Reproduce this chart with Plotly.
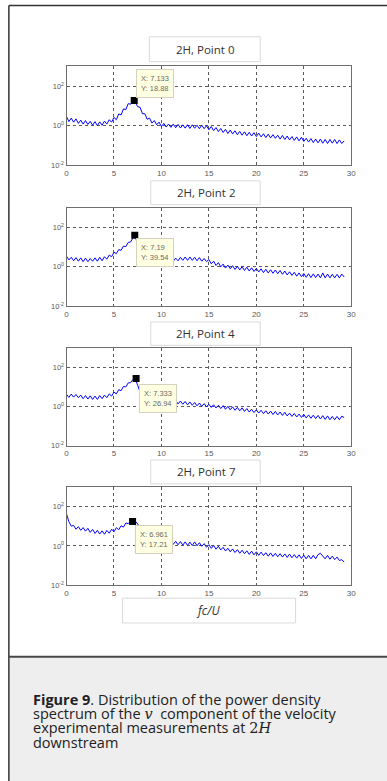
import math
import plotly.graph_objects as go

W, H = 387, 781

# ---------------- data ----------------
FREQ = [
    0, 0.25, 0.5, 0.75, 1, 1.25, 1.5, 1.75, 2, 2.25, 2.5, 2.75,
    3, 3.25, 3.5, 3.75, 4, 4.25, 4.5, 4.75, 5, 5.25, 5.5, 5.75,
    6, 6.25, 6.5, 6.75, 7, 7.25, 7.5, 7.75, 8, 8.25, 8.5, 8.75,
    9, 9.25, 9.5, 9.75, 10, 10.25, 10.5, 10.75, 11, 11.25, 11.5, 11.75,
    12, 12.25, 12.5, 12.75, 13, 13.25, 13.5, 13.75, 14, 14.25, 14.5, 14.75,
    15, 15.25, 15.5, 15.75, 16, 16.25, 16.5, 16.75, 17, 17.25, 17.5, 17.75,
    18, 18.25, 18.5, 18.75, 19, 19.25, 19.5, 19.75, 20, 20.25, 20.5, 20.75,
    21, 21.25, 21.5, 21.75, 22, 22.25, 22.5, 22.75, 23, 23.25, 23.5, 23.75,
    24, 24.25, 24.5, 24.75, 25, 25.25, 25.5, 25.75, 26, 26.25, 26.5, 26.75,
    27, 27.25, 27.5, 27.75, 28, 28.25, 28.5, 28.75, 29, 29.25,
]

PSD_P0 = [
    2.9, 1.6, 2.4, 1.5, 2.2, 1.3, 1.9, 1.2, 1.8, 1.15, 1.65, 1.05,
    1.6, 1.0, 1.55, 1.05, 1.7, 1.2, 2.0, 1.5, 2.6, 2.0, 3.9, 3.5,
    7.0, 6.5, 13.0, 12.0, 18.0, 16.0, 9.0, 8.5, 4.0, 4.0, 2.1, 2.4,
    1.35, 1.8, 1.1, 1.5, 0.9, 1.3, 0.85, 1.2, 0.82, 1.2, 0.78, 1.15,
    0.76, 1.1, 0.75, 1.12, 0.72, 1.1, 0.74, 1.05, 0.7, 1.05, 0.7, 1.0,
    0.62, 0.9, 0.56, 0.8, 0.5, 0.72, 0.45, 0.65, 0.4, 0.6, 0.38, 0.55,
    0.35, 0.51, 0.33, 0.49, 0.31, 0.46, 0.3, 0.44, 0.28, 0.42, 0.27, 0.39,
    0.25, 0.37, 0.24, 0.35, 0.23, 0.33, 0.21, 0.32, 0.2, 0.3, 0.19, 0.28,
    0.18, 0.27, 0.17, 0.26, 0.16, 0.23, 0.15, 0.22, 0.14, 0.21, 0.135, 0.21,
    0.13, 0.2, 0.125, 0.2, 0.13, 0.2, 0.125, 0.19, 0.125, 0.17,
]

PSD_P2 = [
    3.4, 2.2, 3.0, 2.0, 2.9, 1.9, 2.8, 1.8, 2.7, 1.8, 2.6, 1.9,
    2.8, 1.9, 3.0, 2.0, 3.2, 2.4, 3.9, 3.2, 5.4, 4.6, 7.4, 6.8,
    11.0, 10.5, 17.0, 18.0, 29.0, 37.0, 12.0, 6.0, 4.0, 3.0, 2.6, 2.2,
    2.5, 2.0, 2.4, 1.9, 2.4, 1.9, 2.5, 1.9, 2.8, 1.9, 2.7, 2.0,
    3.0, 2.1, 3.1, 2.1, 3.1, 2.1, 3.0, 2.0, 2.9, 1.9, 2.6, 1.8,
    2.3, 1.4, 1.9, 1.15, 1.6, 0.98, 1.35, 0.85, 1.2, 0.78, 1.12, 0.72,
    1.05, 0.68, 1.0, 0.64, 0.94, 0.6, 0.88, 0.57, 0.82, 0.54, 0.78, 0.5,
    0.74, 0.48, 0.7, 0.46, 0.68, 0.44, 0.64, 0.41, 0.6, 0.38, 0.55, 0.36,
    0.52, 0.33, 0.48, 0.31, 0.45, 0.29, 0.44, 0.28, 0.43, 0.28, 0.42, 0.27,
    0.48, 0.27, 0.42, 0.27, 0.41, 0.27, 0.41, 0.27, 0.42, 0.3,
]

PSD_P4 = [
    4.2, 2.9, 4.3, 3.0, 4.1, 2.8, 3.8, 2.5, 3.6, 2.4, 3.5, 2.3,
    3.4, 2.3, 3.6, 2.5, 3.8, 2.8, 4.4, 3.4, 5.4, 4.4, 7.2, 6.4,
    10.5, 10.0, 16.0, 16.5, 24.0, 25.0, 12.0, 5.5, 3.5, 2.5, 2.3, 1.8,
    2.3, 1.7, 2.2, 1.6, 2.1, 1.6, 2.1, 1.5, 2.1, 1.45, 2.0, 1.35,
    1.9, 1.3, 1.8, 1.22, 1.7, 1.15, 1.6, 1.08, 1.5, 1.0, 1.4, 0.95,
    1.3, 0.9, 1.22, 0.84, 1.15, 0.78, 1.1, 0.72, 1.02, 0.68, 0.96, 0.64,
    0.9, 0.6, 0.85, 0.56, 0.78, 0.52, 0.72, 0.49, 0.68, 0.46, 0.64, 0.43,
    0.6, 0.41, 0.58, 0.39, 0.56, 0.37, 0.52, 0.35, 0.5, 0.33, 0.46, 0.31,
    0.44, 0.29, 0.41, 0.28, 0.39, 0.26, 0.37, 0.25, 0.36, 0.24, 0.35, 0.23,
    0.34, 0.22, 0.33, 0.21, 0.31, 0.21, 0.31, 0.21, 0.32, 0.27,
]

PSD_P7 = [
    42.0, 17.0, 10.0, 11.0, 7.0, 9.5, 6.2, 8.5, 5.6, 7.8, 4.9, 6.9,
    4.3, 6.1, 4.0, 5.8, 3.9, 6.1, 4.4, 7.0, 5.2, 8.4, 6.6, 10.5,
    9.0, 14.5, 13.5, 18.0, 16.5, 18.0, 13.0, 8.0, 4.5, 3.6, 2.4, 2.4,
    1.8, 2.2, 1.6, 2.1, 1.5, 2.0, 1.95, 1.3, 1.85, 1.2, 1.7, 1.15,
    1.65, 1.1, 1.6, 1.05, 1.55, 1.05, 1.6, 1.02, 1.45, 0.95, 1.3, 0.85,
    1.15, 0.75, 1.05, 0.68, 0.95, 0.62, 0.85, 0.55, 0.76, 0.5, 0.7, 0.46,
    0.64, 0.42, 0.6, 0.4, 0.56, 0.37, 0.54, 0.35, 0.5, 0.33, 0.48, 0.32,
    0.45, 0.3, 0.44, 0.29, 0.42, 0.28, 0.4, 0.27, 0.39, 0.26, 0.38, 0.25,
    0.36, 0.24, 0.35, 0.23, 0.34, 0.22, 0.33, 0.22, 0.33, 0.22, 0.36, 0.42,
    0.32, 0.22, 0.33, 0.21, 0.3, 0.2, 0.27, 0.18, 0.2, 0.15,
]

PANEL_TITLES = ["2H, Point 0", "2H, Point 2", "2H, Point 4", "2H, Point 7"]
PEAK_X = [7.133, 7.19, 7.333, 6.961]
PEAK_Y = [18.88, 39.54, 26.94, 17.21]
PEAK_LABEL_X = ["7.133", "7.19", "7.333", "6.961"]
PEAK_LABEL_Y = ["18.88", "39.54", "26.94", "17.21"]
SERIES = [PSD_P0, PSD_P2, PSD_P4, PSD_P7]

X_TICKS = [0, 5, 10, 15, 20, 25, 30]
Y_TICKS = [0.01, 1, 100]
Y_TICK_TEXT = ["10<sup>-2</sup>", "10<sup>0</sup>", "10<sup>2</sup>"]
X_LABEL = "fc/U"

# ---------------- layout geometry (pixels) ----------------
def fx(p):
    return p / W


def fy(p):
    return 1 - p / H


PLOT_X = (65.7, 355.7)
PLOT_Y = [(66.7, 166.3), (209, 308), (350, 448.5), (490, 589)]
TITLE_BOX = [(150, 37, 263, 62), (151.5, 182, 263, 206), (151.5, 324, 263, 347.5), (151.5, 463, 263, 487)]
# datatip offsets (xanchor, yanchor, xshift, yshift)
TIP_POS = [("left", "bottom", 2, 2), ("left", "top", 1, -3), ("left", "top", 3, -6), ("left", "top", 2, -3)]

fig = go.Figure()

for i in range(4):
    n = "" if i == 0 else str(i + 1)
    xa, ya = "x" + n, "y" + n
    fig.add_trace(go.Scatter(
        x=FREQ, y=SERIES[i], mode="lines",
        line=dict(color="#0000ff", width=1),
        xaxis=xa, yaxis=ya, showlegend=False, hoverinfo="skip"))
    fig.add_trace(go.Scatter(
        x=[PEAK_X[i]], y=[PEAK_Y[i]], mode="markers",
        marker=dict(symbol="square", size=7, color="black"),
        xaxis=xa, yaxis=ya, showlegend=False, hoverinfo="skip"))

    y0, y1 = PLOT_Y[i]
    axis_common = dict(
        showline=True, mirror=True, linecolor="#6e6e6e", linewidth=1,
        showgrid=True, gridcolor="#5a5a5a", griddash="dot", gridwidth=1,
        zeroline=False, ticks="",
        tickfont=dict(family="Liberation Sans", size=8, color="#5a5a5a"),
    )
    fig.layout["xaxis" + n] = dict(
        axis_common, domain=[fx(PLOT_X[0]), fx(PLOT_X[1])], range=[0, 30],
        tickvals=X_TICKS, anchor=ya,
    )
    fig.layout["yaxis" + n] = dict(
        axis_common, domain=[fy(y1), fy(y0)], type="log", range=[-2, 3],
        tickvals=Y_TICKS, ticktext=Y_TICK_TEXT, anchor=xa,
        tickfont=dict(family="Liberation Sans", size=7.5, color="#5a5a5a"),
    )

    xanc, yanc, xs, ys = TIP_POS[i]
    fig.add_annotation(
        x=PEAK_X[i], y=math.log10(PEAK_Y[i]), xref=xa, yref=ya,
        text="X: " + PEAK_LABEL_X[i] + "<br>Y: " + PEAK_LABEL_Y[i],
        showarrow=False, xanchor=xanc, yanchor=yanc, xshift=xs, yshift=ys,
        align="left", bgcolor="#ffffe1", bordercolor="#d2d2be", borderwidth=1,
        borderpad=4, font=dict(family="Liberation Sans", size=7.5, color="#6a6a6a"),
    )

    bx0, by0, bx1, by1 = TITLE_BOX[i]
    fig.add_shape(type="rect", xref="paper", yref="paper",
                  x0=fx(bx0), x1=fx(bx1), y0=fy(by1), y1=fy(by0),
                  line=dict(color="#dadada", width=1), fillcolor="white")
    fig.add_annotation(
        x=fx((bx0 + bx1) / 2), y=fy((by0 + by1) / 2), xref="paper", yref="paper",
        text=PANEL_TITLES[i], showarrow=False, xanchor="center", yanchor="middle",
        font=dict(family="Open Sans", size=11.5, color="#333333"),
    )

# x-label box
fig.add_shape(type="rect", xref="paper", yref="paper",
              x0=fx(122.7), x1=fx(299), y0=fy(627), y1=fy(602),
              line=dict(color="#dadada", width=1), fillcolor="white")
fig.add_annotation(
    x=fx(210), y=fy(614.5), xref="paper", yref="paper",
    text="<i>" + X_LABEL + "</i>", showarrow=False, xanchor="center", yanchor="middle",
    font=dict(family="Open Sans", size=12, color="#333333"),
)

# outer frame and caption area
fig.add_shape(type="rect", xref="paper", yref="paper",
              x0=fx(7.5), x1=fx(395), y0=fy(790), y1=fy(661),
              line=dict(width=0), fillcolor="#eeeeee", layer="below")
fig.add_shape(type="line", xref="paper", yref="paper",
              x0=fx(7), x1=fx(395), y0=fy(5.5), y1=fy(5.5),
              line=dict(color="#333333", width=1.5))
fig.add_shape(type="line", xref="paper", yref="paper",
              x0=fx(7), x1=fx(7), y0=fy(5.5), y1=fy(790),
              line=dict(color="#333333", width=1.5))
fig.add_shape(type="line", xref="paper", yref="paper",
              x0=fx(7), x1=fx(395), y0=fy(661), y1=fy(661),
              line=dict(color="#474747", width=2))

CAPTION = [
    "<b>Figure 9</b>. Distribution of the power density",
    "spectrum of the <span style=\"font-family:'DejaVu Serif'\"><i>v</i></span>  component of the velocity",
    "experimental measurements at <span style=\"font-family:'DejaVu Serif'\">2<i>H</i></span>",
    "downstream",
]
for k, line in enumerate(CAPTION):
    fig.add_annotation(
        x=fx(31), y=fy(704 + 14.3 * k), xref="paper", yref="paper",
        text=line, showarrow=False, xanchor="left", yanchor="middle",
        borderpad=0,
        font=dict(family="Open Sans", size=14.5, color="#222222"),
    )

fig.update_layout(
    width=W, height=H, autosize=False,
    margin=dict(l=0, r=0, t=0, b=0),
    paper_bgcolor="white", plot_bgcolor="white",
    showlegend=False,
)

fig.write_html("out.html")
